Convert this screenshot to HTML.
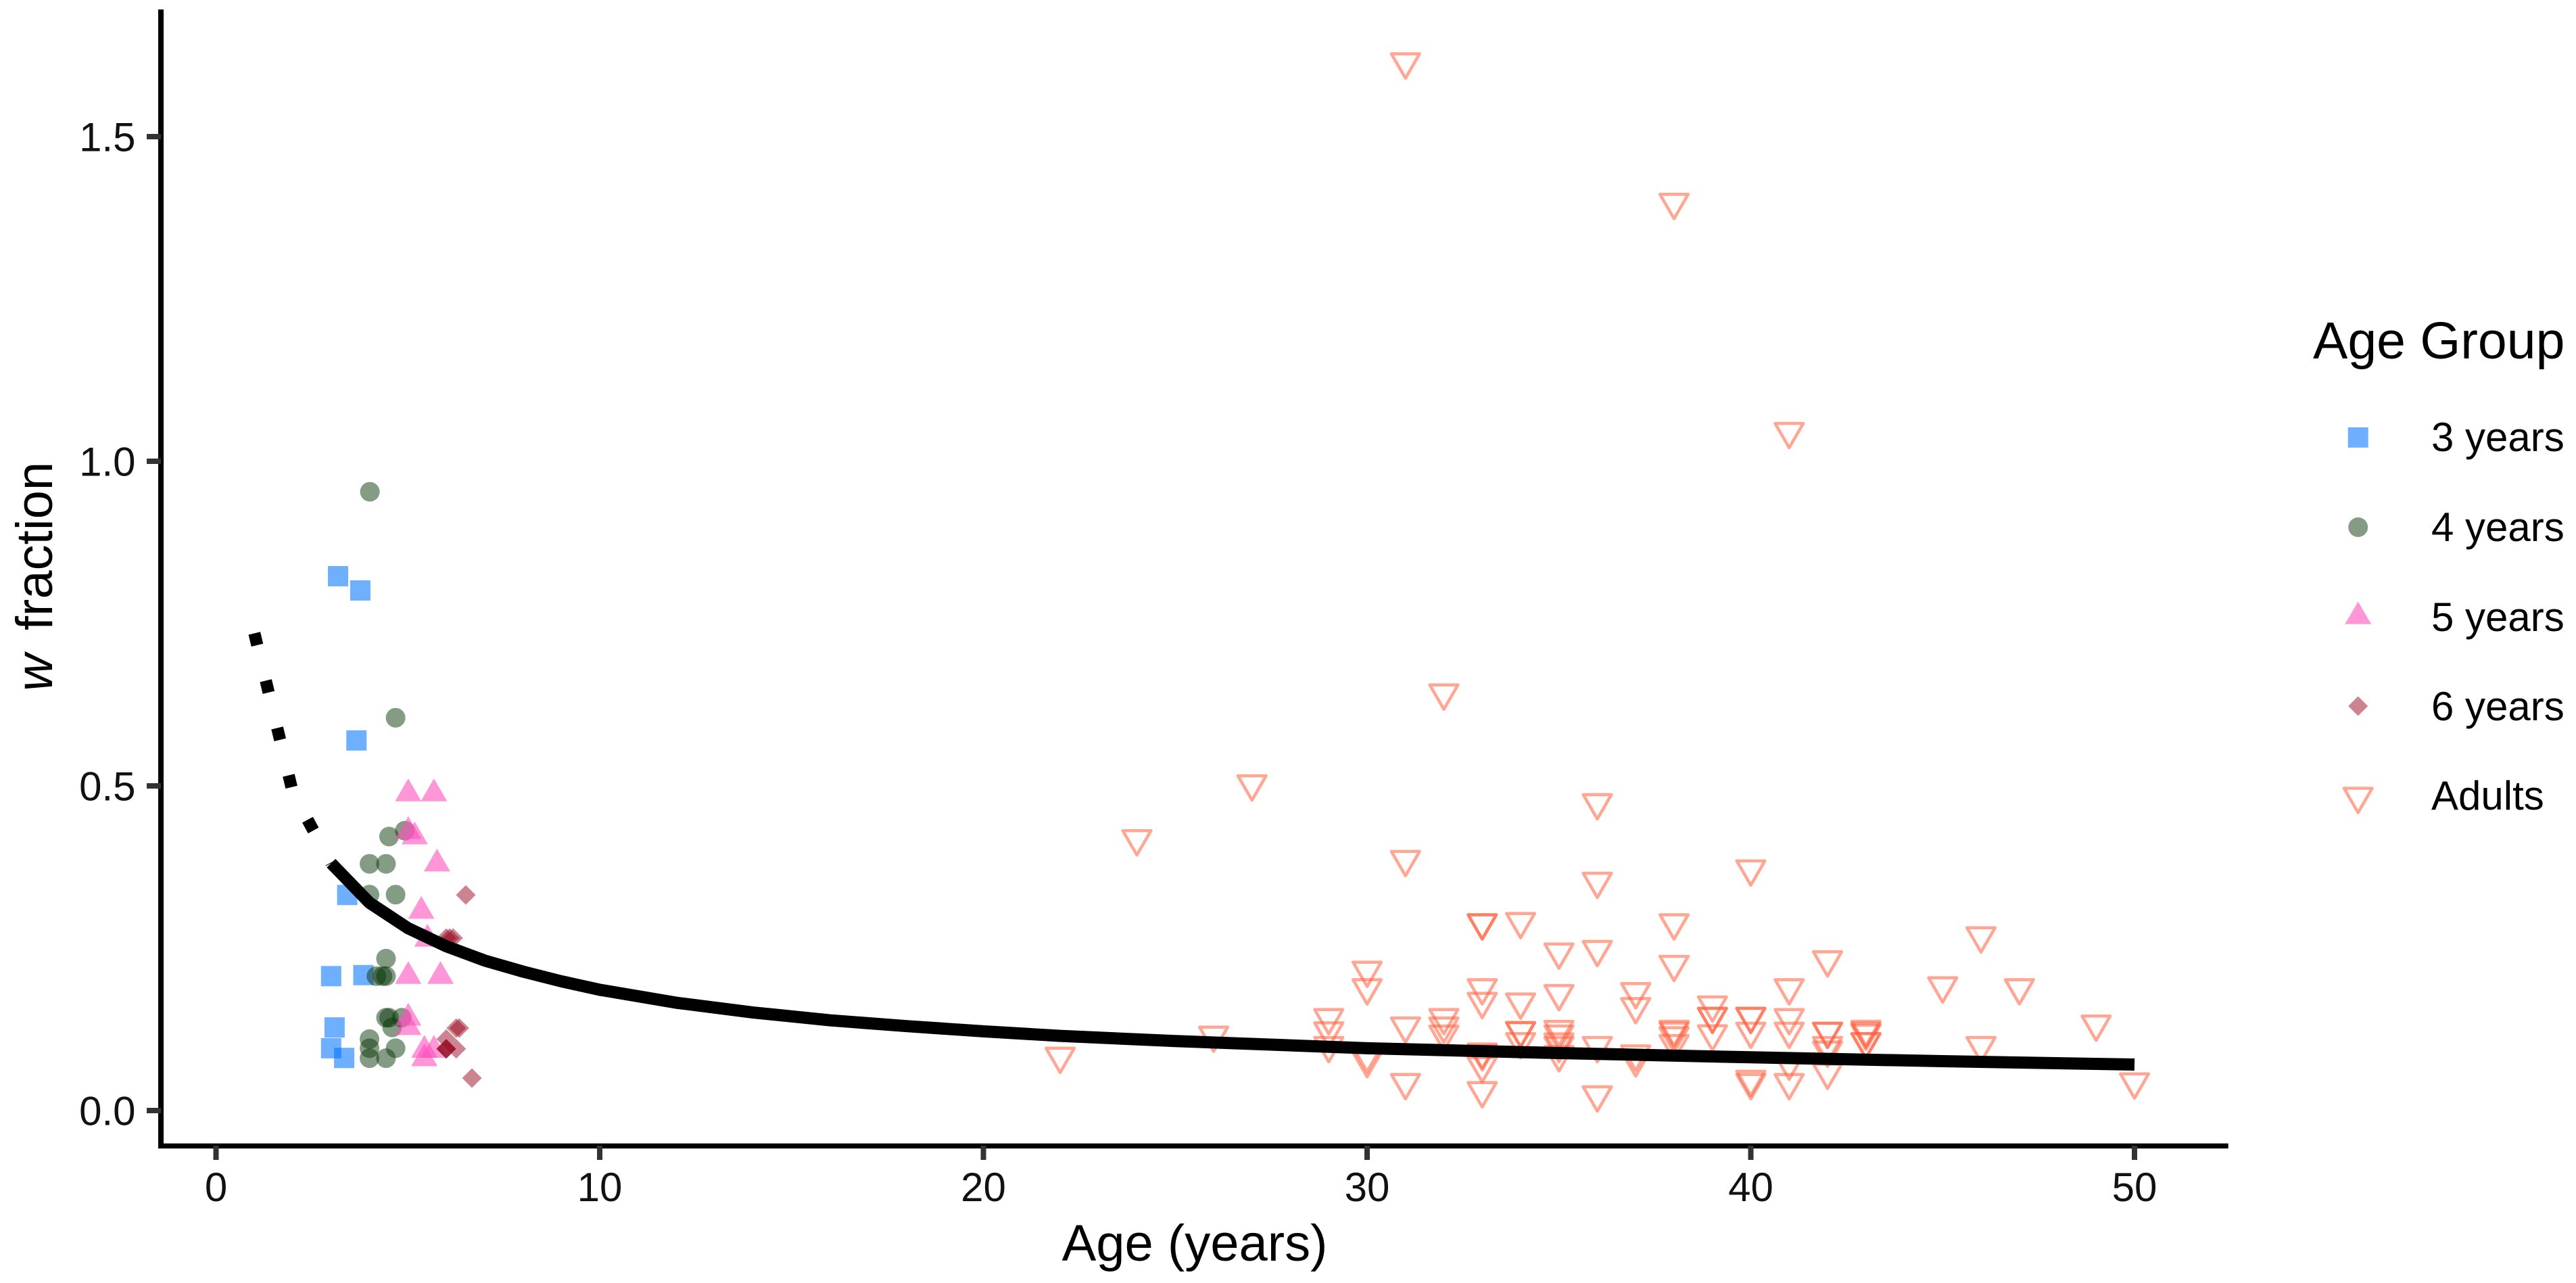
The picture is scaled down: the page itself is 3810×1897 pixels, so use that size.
<!DOCTYPE html>
<html lang="en">
<head>
<meta charset="utf-8">
<title>w fraction by age</title>
<style>
html,body{margin:0;padding:0;background:#fff;}
svg{display:block;font-family:"Liberation Sans",Arial,sans-serif;}
</style>
</head>
<body>
<svg id="chart" xmlns="http://www.w3.org/2000/svg" width="3810" height="1897" viewBox="0 0 3810 1897">
  <rect x="0" y="0" width="3810" height="1897" fill="#fff"/>
  <g id="series"></g>
  <g id="axes">
    <line x1="238" y1="14" x2="238" y2="1698" stroke="#000" stroke-width="8"/>
    <line x1="234" y1="1694.4" x2="3295.7" y2="1694.4" stroke="#000" stroke-width="7.5"/>
  </g>
  <text x="1767" y="1864" font-size="76" text-anchor="middle" fill="#000">Age (years)</text>
  <text transform="translate(77 1022) rotate(-90)" font-size="76" fill="#000"><tspan font-style="italic">w</tspan><tspan dx="35">fraction</tspan></text>
  <g id="legend">
    <text x="3421" y="530" font-size="77" fill="#000">Age Group</text>
    <rect x="3472.7" y="631.8" width="30" height="30" fill="#0072ff" fill-opacity="0.57"/>
    <text x="3596" y="667" font-size="60" fill="#000">3 years</text>
    <circle cx="3487.7" cy="779.5" r="14.5" fill="#0a370a" fill-opacity="0.5"/>
    <text x="3596" y="800" font-size="60" fill="#000">4 years</text>
    <polygon points="3487.7,889.5 3507.2,922.8 3468.2,922.8" fill="#ff50be" fill-opacity="0.6"/>
    <text x="3596" y="933" font-size="60" fill="#000">5 years</text>
    <polygon points="3487.7,1029.5 3502.2,1044 3487.7,1058.5 3473.2,1044" fill="#970a22" fill-opacity="0.5"/>
    <text x="3596" y="1065" font-size="60" fill="#000">6 years</text>
    <polygon points="3466.9,1165.5 3508.5,1165.5 3487.7,1201.5" fill="none" stroke="#ff5f3c" stroke-opacity="0.55" stroke-width="4.6" stroke-linejoin="round"/>
    <text x="3596" y="1197" font-size="60" fill="#000">Adults</text>
  </g>
</svg>
<script>
// Axis ticks
const xTickValues = [0, 10, 20, 30, 40, 50];
const xTickLabels = ["0", "10", "20", "30", "40", "50"];
const yTickValues = [0, 0.5, 1.0, 1.5];
const yTickLabels = ["0.0", "0.5", "1.0", "1.5"];

// 3 years
const age3Ages = [3.18, 3.76, 3.66, 3.42, 3.0, 3.84, 3.09, 3.0, 3.34];
const age3Fractions = [0.823, 0.801, 0.570, 0.332, 0.207, 0.2086, 0.128, 0.096, 0.081];

// 4 years
const age4Ages = [4.01, 4.68, 4.92, 4.51, 4.0, 4.43, 4.0, 4.68, 4.43, 4.18, 4.34, 4.43, 4.43, 4.51, 4.84, 4.59, 4.0, 4.0, 4.68, 4.0, 4.43];
const age4Fractions = [0.953, 0.605, 0.431, 0.422, 0.380, 0.380, 0.3325, 0.3325, 0.234, 0.207, 0.207, 0.207, 0.143, 0.143, 0.143, 0.128, 0.11, 0.096, 0.096, 0.0806, 0.0806];

// 5 years
const age5Ages = [5.01, 5.68, 5.01, 5.18, 5.76, 5.35, 5.51, 5.01, 5.85, 5.01, 5.01, 5.43, 5.68, 5.43];
const age5Fractions = [0.488, 0.488, 0.43, 0.4216, 0.38, 0.307, 0.264, 0.2068, 0.2068, 0.1425, 0.128, 0.093, 0.093, 0.08];

// 6 years
const age6Ages = [6.51, 6.0, 6.09, 6.18, 6.26, 6.34, 6.0, 6.26, 6.0, 6.0, 6.0, 6.67];
const age6Fractions = [0.332, 0.2656, 0.2656, 0.2656, 0.127, 0.127, 0.11, 0.095, 0.095, 0.095, 0.095, 0.05];

// Adults
const adultAges = [22, 24, 26, 27, 29, 29, 29, 30, 30, 30, 30, 31, 31, 31, 31, 32, 32, 32, 32, 33, 33, 33, 33, 33, 33, 33, 33, 34, 34, 34, 34, 34, 35, 35, 35, 35, 35, 35, 35, 36, 36, 36, 36, 36, 37, 37, 37, 37, 38, 38, 38, 38, 38, 38, 38, 39, 39, 39, 39, 40, 40, 40, 40, 40, 40, 41, 41, 41, 41, 41, 41, 42, 42, 42, 42, 42, 42, 43, 43, 43, 43, 43, 45, 46, 46, 47, 49, 50];
const adultFractions = [0.0835, 0.4185, 0.116, 0.503, 0.143, 0.1226, 0.10, 0.216, 0.189, 0.085, 0.077, 1.615, 0.3866, 0.13, 0.043, 0.643, 0.143, 0.13, 0.1175, 0.289, 0.289, 0.189, 0.168, 0.0875, 0.09, 0.069, 0.0305, 0.291, 0.167, 0.123, 0.123, 0.106, 0.244, 0.18, 0.1248, 0.1177, 0.1055, 0.10, 0.086, 0.474, 0.353, 0.248, 0.10, 0.024, 0.183, 0.16, 0.087, 0.078, 1.3986, 0.289, 0.225, 0.125, 0.122, 0.115, 0.103, 0.1625, 0.145, 0.145, 0.118, 0.372, 0.145, 0.145, 0.122, 0.048, 0.043, 1.0458, 0.189, 0.143, 0.122, 0.073, 0.043, 0.232, 0.122, 0.122, 0.10, 0.093, 0.059, 0.125, 0.122, 0.119, 0.106, 0.106, 0.192, 0.269, 0.10, 0.189, 0.133, 0.044];

// Fitted curve: dotted extrapolation, then solid
const dottedAges = [1, 2, 3];
const dottedFractions = [0.735, 0.49, 0.381];
const solidAges = [3, 4, 5, 6, 7, 8, 9, 10, 12, 14, 16, 18, 20, 22, 25, 30, 35, 40, 45, 50];
const solidFractions = [0.381, 0.32, 0.281, 0.253, 0.231, 0.214, 0.199, 0.186, 0.166, 0.151, 0.139, 0.13, 0.122, 0.115, 0.107, 0.096, 0.0885, 0.082, 0.076, 0.0708];

const SVG_NS = "http://www.w3.org/2000/svg";
const xScale = function (age) { return 319.5 + age * 56.75; };
const yScale = function (fraction) { return 1642 - fraction * 960; };
const seriesLayer = document.getElementById("series");
const axesLayer = document.getElementById("axes");

function make(tag, parent) {
  const el = document.createElementNS(SVG_NS, tag);
  parent.appendChild(el);
  return el;
}

// Axis ticks and labels
xTickValues.forEach(function (value, i) {
  const tick = make("line", axesLayer);
  
  
  tick.setAttribute("x1", xScale(value));
  tick.setAttribute("x2", xScale(value));
  tick.setAttribute("y1", 1694);
  tick.setAttribute("y2", 1715);
  tick.setAttribute("stroke", "#333");
  tick.setAttribute("stroke-width", 8);
  const label = make("text", axesLayer);
  
  
  label.setAttribute("x", xScale(value));
  label.setAttribute("y", 1776);
  label.setAttribute("font-size", 60);
  label.setAttribute("text-anchor", "middle");
  label.setAttribute("fill", "#111");
  label.textContent = xTickLabels[i];
});
yTickValues.forEach(function (value, i) {
  const tick = make("line", axesLayer);
  
  
  tick.setAttribute("x1", 217);
  tick.setAttribute("x2", 238);
  tick.setAttribute("y1", yScale(value));
  tick.setAttribute("y2", yScale(value));
  tick.setAttribute("stroke", "#333");
  tick.setAttribute("stroke-width", 8);
  const label = make("text", axesLayer);
  
  
  label.setAttribute("x", 200.5);
  label.setAttribute("y", yScale(value) + 21.5);
  label.setAttribute("font-size", 60);
  label.setAttribute("text-anchor", "end");
  label.setAttribute("fill", "#111");
  label.textContent = yTickLabels[i];
});

// 3 years: squares
age3Ages.forEach(function (age, i) {
  const mark = make("rect", seriesLayer);
  
  
  mark.setAttribute("x", xScale(age) - 15);
  mark.setAttribute("y", yScale(age3Fractions[i]) - 15);
  mark.setAttribute("width", 30);
  mark.setAttribute("height", 30);
  mark.setAttribute("fill", "#0072ff");
  mark.setAttribute("fill-opacity", 0.57);
});

// 4 years: circles
age4Ages.forEach(function (age, i) {
  const mark = make("circle", seriesLayer);
  
  
  mark.setAttribute("cx", xScale(age));
  mark.setAttribute("cy", yScale(age4Fractions[i]));
  mark.setAttribute("r", 14.5);
  mark.setAttribute("fill", "#0a370a");
  mark.setAttribute("fill-opacity", 0.5);
});

// 5 years: triangles
age5Ages.forEach(function (age, i) {
  const x = xScale(age);
  const y = yScale(age5Fractions[i]);
  const mark = make("polygon", seriesLayer);
  
  
  mark.setAttribute("points", x + "," + (y - 22.5) + " " + (x + 19.5) + "," + (y + 11.25) + " " + (x - 19.5) + "," + (y + 11.25));
  mark.setAttribute("fill", "#ff50be");
  mark.setAttribute("fill-opacity", 0.6);
});

// 6 years: diamonds
age6Ages.forEach(function (age, i) {
  const x = xScale(age);
  const y = yScale(age6Fractions[i]);
  const mark = make("polygon", seriesLayer);
  
  
  mark.setAttribute("points", x + "," + (y - 14.5) + " " + (x + 14.5) + "," + y + " " + x + "," + (y + 14.5) + " " + (x - 14.5) + "," + y);
  mark.setAttribute("fill", "#970a22");
  mark.setAttribute("fill-opacity", 0.5);
});

// Adults: open inverted triangles
adultAges.forEach(function (age, i) {
  const x = xScale(age);
  const y = yScale(adultFractions[i]);
  const mark = make("polygon", seriesLayer);
  
  
  mark.setAttribute("points", (x - 20.8) + "," + (y - 12) + " " + (x + 20.8) + "," + (y - 12) + " " + x + "," + (y + 24));
  mark.setAttribute("fill", "none");
  mark.setAttribute("stroke", "#ff5f3c");
  mark.setAttribute("stroke-opacity", 0.55);
  mark.setAttribute("stroke-width", 4.6);
  mark.setAttribute("stroke-linejoin", "round");
});

// Fitted curve
function curvePoints(ages, fractions) {
  return ages.map(function (age, i) { return xScale(age) + "," + yScale(fractions[i]); }).join(" ");
}
const dottedCurve = make("polyline", seriesLayer);


dottedCurve.setAttribute("points", curvePoints(dottedAges, dottedFractions));
dottedCurve.setAttribute("fill", "none");
dottedCurve.setAttribute("stroke", "#000");
dottedCurve.setAttribute("stroke-width", 18);
dottedCurve.setAttribute("stroke-dasharray", "18 54");

const solidCurve = make("polyline", seriesLayer);


solidCurve.setAttribute("points", curvePoints(solidAges, solidFractions));
solidCurve.setAttribute("fill", "none");
solidCurve.setAttribute("stroke", "#000");
solidCurve.setAttribute("stroke-width", 18);
solidCurve.setAttribute("stroke-linejoin", "round");
</script>
</body>
</html>
